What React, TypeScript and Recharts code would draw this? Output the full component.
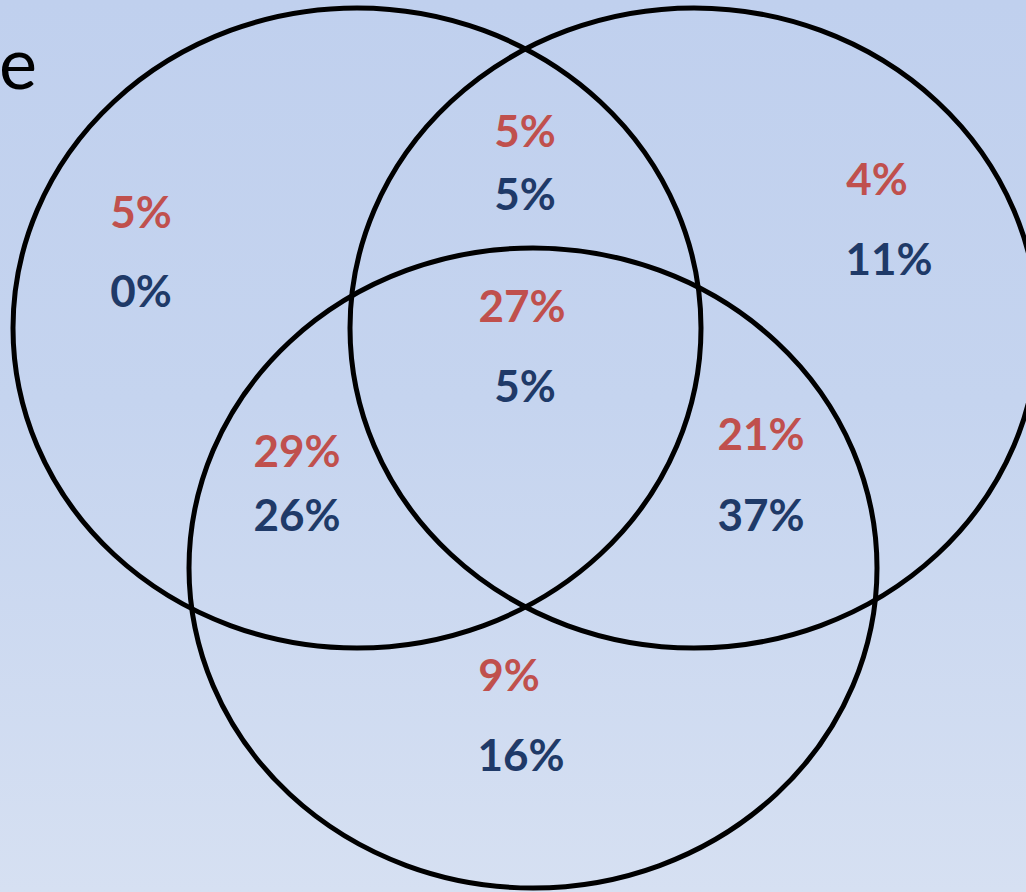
import React from "react"
import { ScatterChart, Scatter, XAxis, YAxis } from "recharts"

// three circles of the venn diagram (chart units = pixels)
const circleNames = ["A", "B", "C"]
const circleX = [357, 694, 533]
const circleY = [328, 328, 568]
const circleRx = [344, 344, 344]
const circleRy = [320, 320, 320]

// regions, red and blue percentages
const regionNames = ["A only", "A and B", "B only", "A, B and C", "A and C", "B and C", "C only"]
const redValues = [5, 5, 4, 27, 29, 21, 9]
const blueValues = [0, 5, 11, 5, 26, 37, 16]
const redX = [141, 525, 877, 522, 297, 761, 509]
const blueX = [141, 525, 889, 525, 297, 761, 521]
const redY = [211, 130, 178, 305, 450, 433, 674]
const blueY = [290, 193, 258, 385, 514, 514, 754]

const circles = circleNames.map((name, i) => ({
  name,
  x: circleX[i],
  y: circleY[i],
  rx: circleRx[i],
  ry: circleRy[i],
}))

const redLabels = regionNames.map((name, i) => ({ name, x: redX[i], y: redY[i], label: `${redValues[i]}%` }))
const blueLabels = regionNames.map((name, i) => ({ name, x: blueX[i], y: blueY[i], label: `${blueValues[i]}%` }))

const W = 1026
const H = 892

const Ellipse = (props: any) => (
  <ellipse
    cx={props.cx}
    cy={props.cy}
    rx={props.payload.rx}
    ry={props.payload.ry}
    fill="none"
    stroke="#000"
    strokeWidth={5}
  />
)

const makeLabel = (color: string) => (props: any) => (
  <text
    x={props.cx}
    y={props.cy}
    textAnchor="middle"
    dominantBaseline="central"
    fill={color}
    fontFamily="Lato, 'Open Sans', sans-serif"
    fontWeight={700}
    fontSize={44}
  >
    {props.payload.label}
  </text>
)

export default function App() {
  return (
    <div
      style={{
        position: "absolute",
        top: 0,
        left: 0,
        width: W,
        height: H,
        overflow: "hidden",
        background: "linear-gradient(to bottom, #c0d0ee 0%, #c5d4ef 45%, #d6e0f2 100%)",
      }}
    >
      <svg width={W} height={H} style={{ position: "absolute", top: 0, left: 0 }}>
        <text x={-1} y={89} fontFamily="Lato, 'Open Sans', sans-serif" fontSize={72} fill="#000">
          e
        </text>
      </svg>
      <ScatterChart width={W} height={H} margin={{ top: 0, right: 0, bottom: 0, left: 0 }} style={{ position: "absolute", top: 0, left: 0 }}>
        <XAxis type="number" dataKey="x" domain={[0, W]} hide />
        <YAxis type="number" dataKey="y" domain={[0, H]} reversed hide />
        <Scatter data={circles} shape={Ellipse} isAnimationActive={false} />
        <Scatter data={redLabels} shape={makeLabel("#c0504d")} isAnimationActive={false} />
        <Scatter data={blueLabels} shape={makeLabel("#1f3a68")} isAnimationActive={false} />
      </ScatterChart>
    </div>
  )
}
